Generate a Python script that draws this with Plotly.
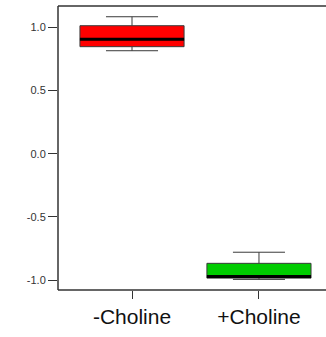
import plotly.graph_objects as go

# Group summaries (five-number summaries per condition)
groups = ["-Choline", "+Choline"]
lower_whisker = [0.815, -0.995]
q1 = [0.847, -0.985]
median = [0.905, -0.972]
q3 = [1.013, -0.868]
upper_whisker = [1.084, -0.78]
fill_colors = ["#FF0000", "#00CC00"]

y_ticks = [-1.0, -0.5, 0.0, 0.5, 1.0]
y_tick_text = ["-1.0", "-0.5", "0.0", "0.5", "1.0"]

box_width = 0.82
positions = list(range(len(groups)))

fig = go.Figure()

for i, name in enumerate(groups):
    fig.add_trace(go.Box(
        x=[positions[i]],
        q1=[q1[i]], median=[median[i]], q3=[q3[i]],
        lowerfence=[lower_whisker[i]], upperfence=[upper_whisker[i]],
        width=box_width,
        whiskerwidth=0.5,
        fillcolor=fill_colors[i],
        line=dict(color="#3a3a3a", width=1),
        boxpoints=False,
        hoverinfo="skip",
        showlegend=False,
    ))
    # thick median bar drawn across the box
    fig.add_trace(go.Scatter(
        x=[positions[i] - box_width / 2, positions[i] + box_width / 2],
        y=[median[i], median[i]],
        mode="lines",
        line=dict(color="black", width=3),
        hoverinfo="skip",
        showlegend=False,
    ))

# open frame: left, bottom and top edges of the plotting region
frame = dict(color="#333", width=1.5)
fig.add_shape(type="line", xref="paper", yref="paper",
              x0=0, x1=1, y0=1, y1=1, line=frame)
fig.add_shape(type="line", xref="paper", yref="paper",
              x0=0, x1=1, y0=0, y1=0, line=frame)
fig.add_shape(type="line", xref="paper", yref="paper",
              x0=0, x1=0, y0=0, y1=1, line=frame)

fig.update_layout(
    width=326, height=337,
    margin=dict(l=58, r=0, t=6, b=47),
    paper_bgcolor="white", plot_bgcolor="white",
    font=dict(family="Arial, Liberation Sans, sans-serif", color="#222"),
    xaxis=dict(
        range=[-0.583, 1.528],
        tickmode="array", tickvals=positions, ticktext=groups,
        ticks="outside", ticklen=8, tickcolor="#333",
        tickfont=dict(size=21, color="#111"),
        showline=False, mirror=False,
        showgrid=False, zeroline=False,
    ),
    yaxis=dict(
        range=[-1.079, 1.169],
        tickmode="array", tickvals=y_ticks, ticktext=y_tick_text,
        ticks="outside", ticklen=9, tickcolor="#333",
        tickfont=dict(size=11, color="#333"),
        showline=False, mirror=False,
        showgrid=False, zeroline=False,
    ),
)

fig.write_html("out.html")
